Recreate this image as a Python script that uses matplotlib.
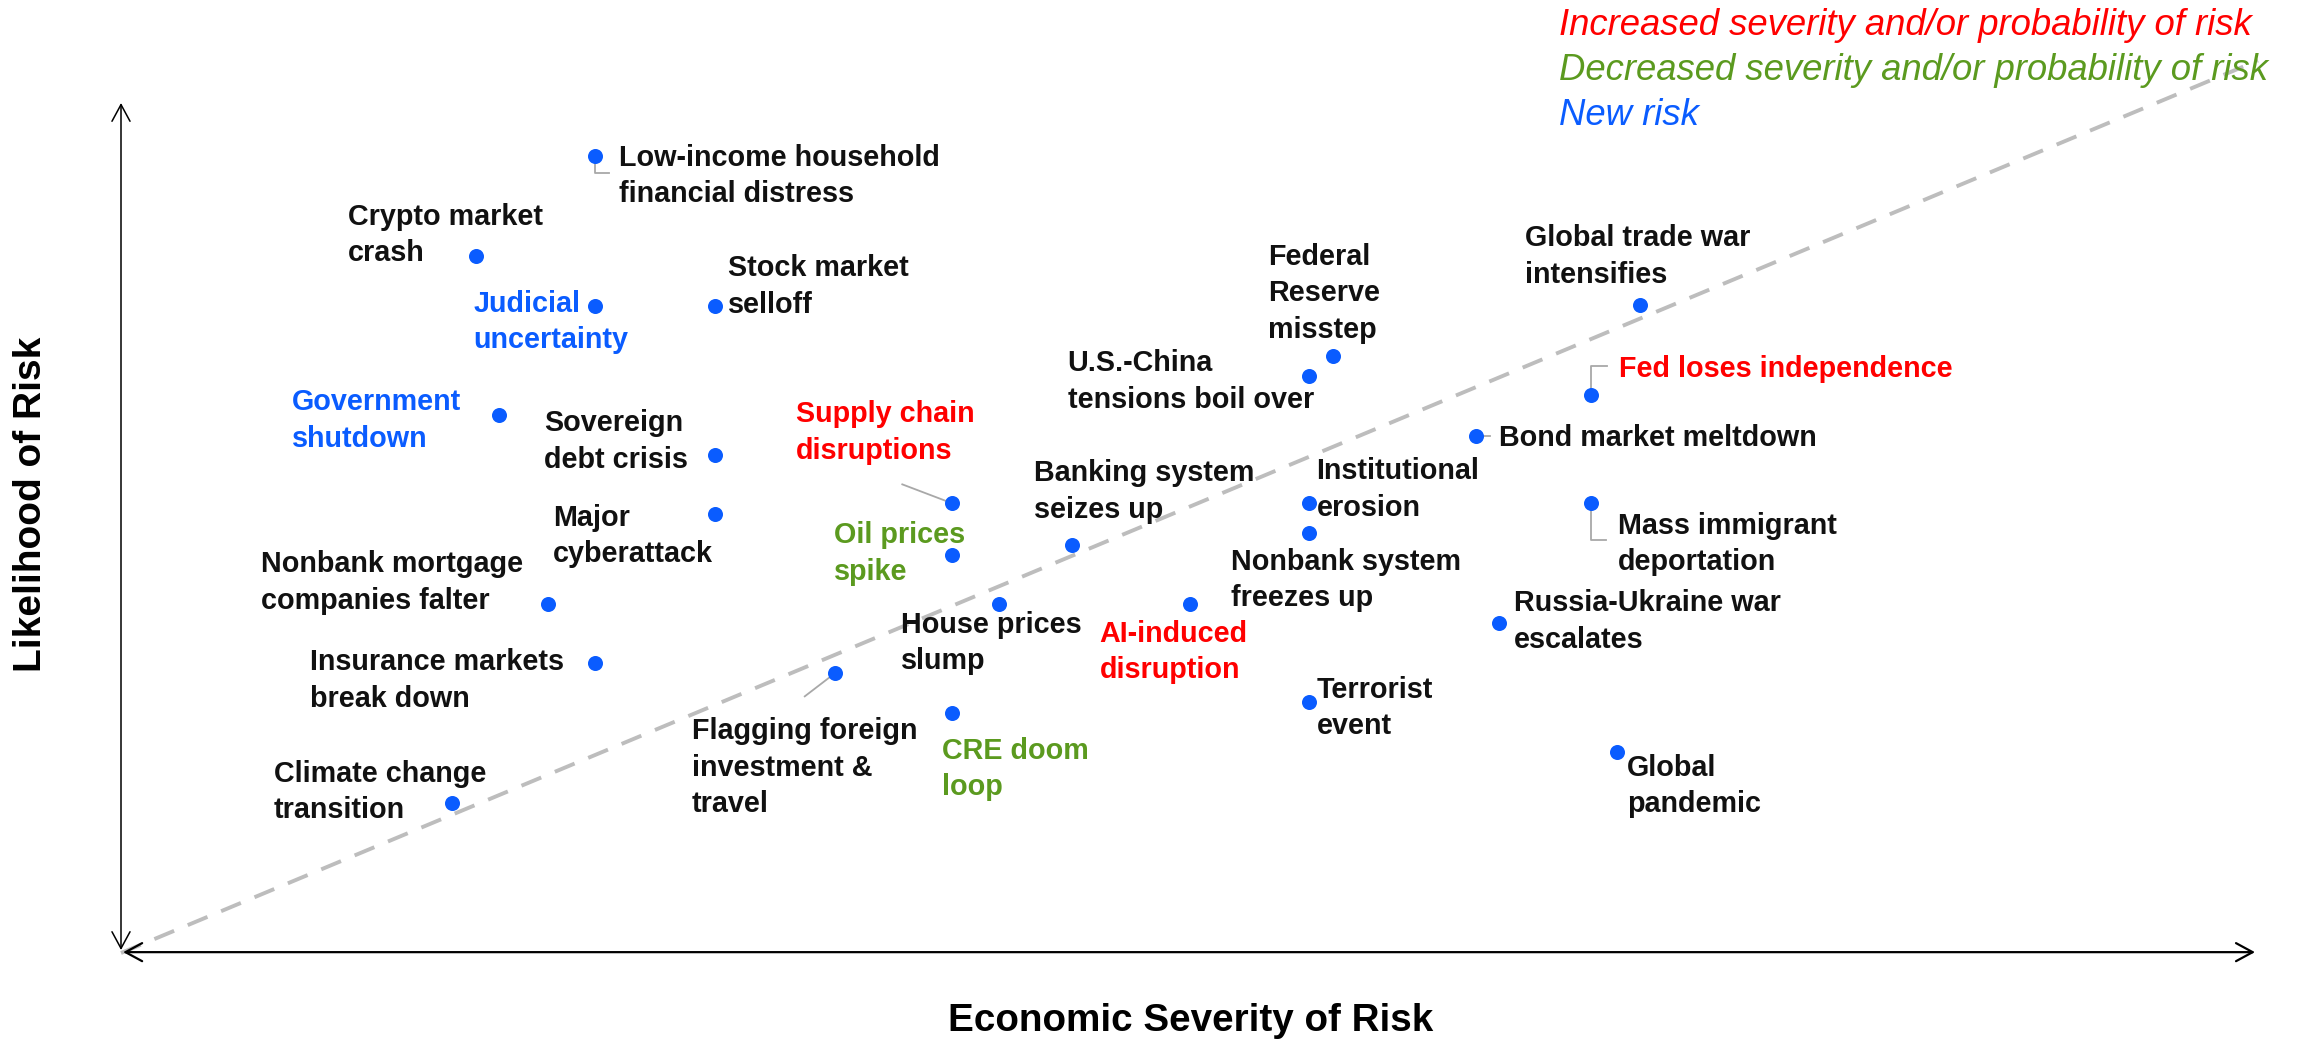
import matplotlib
matplotlib.use("Agg")
import matplotlib.pyplot as plt
import matplotlib.transforms as mtransforms
from matplotlib.patches import FancyArrowPatch

plt.rcParams['font.family'] = ['Liberation Sans', 'DejaVu Sans']

# risk names, severity (x, 0-100) and likelihood (y, 0-100)
risks = [
    "Low-income household\nfinancial distress",
    "Crypto market\ncrash",
    "Judicial\nuncertainty",
    "Stock market\nselloff",
    "Government\nshutdown",
    "Sovereign\ndebt crisis",
    "Major\ncyberattack",
    "Nonbank mortgage\ncompanies falter",
    "Insurance markets\nbreak down",
    "Climate change\ntransition",
    "Flagging foreign\ninvestment &\ntravel",
    "Supply chain\ndisruptions",
    "Oil prices\nspike",
    "House prices\nslump",
    "CRE doom\nloop",
    "Banking system\nseizes up",
    "AI-induced\ndisruption",
    "U.S.-China\ntensions boil over",
    "Federal\nReserve\nmisstep",
    "Institutional\nerosion",
    "Nonbank system\nfreezes up",
    "Terrorist\nevent",
    "Global trade war\nintensifies",
    "Fed loses independence",
    "Bond market meltdown",
    "Mass immigrant\ndeportation",
    "Russia-Ukraine war\nescalates",
    "Global\npandemic",
]
severity = [22.2, 16.6, 22.2, 27.8, 17.7, 27.8, 27.8, 20.0, 22.2, 15.5,
            33.4, 38.9, 38.9, 41.1, 38.9, 44.5, 50.0, 55.6, 56.7, 55.6,
            55.6, 55.6, 71.1, 68.8, 63.4, 68.8, 64.5, 70.0]
likelihood = [93.8, 82.0, 76.1, 76.1, 63.3, 58.6, 51.6, 41.1, 34.1, 17.7,
              32.9, 52.9, 46.8, 41.1, 28.2, 48.0, 41.1, 67.9, 70.2, 52.9,
              49.4, 29.5, 76.2, 65.7, 60.8, 52.9, 38.8, 23.6]
# change vs. previous survey: up, down, new, same
status = ['same', 'same', 'new', 'same', 'new', 'same', 'same', 'same', 'same', 'same',
          'same', 'up', 'down', 'same', 'down', 'same', 'up', 'same', 'same', 'same',
          'same', 'same', 'same', 'up', 'same', 'same', 'same', 'same']

legend_items = [("Increased severity and/or probability of risk", 'up'),
                ("Decreased severity and/or probability of risk", 'down'),
                ("New risk", 'new')]

TEXT_COLORS = {'same': '#111111', 'up': '#ff0000', 'down': '#5b9a1f', 'new': '#0a5cff'}
DOT = '#0a5cff'

# label placement: offset of text left edge / first line centre from the dot (reference px, y down)
label_offsets = [(16, 0), (-87, -28), (-83, -3), (9, -27), (-141, -10), (-116, -23),
                 (-110, 1), (-195, -28), (-194, -2), (-121, -21), (-97, 38), (-106, -62),
                 (-80, -15), (-67, 13), (-7, 24), (-26, -50), (-61, 19), (-164, -10),
                 (-44, -69), (5, -23), (-53, 18), (5, -10), (-78, -47), (19, -19),
                 (16, 0), (18, 14), (10, -15), (7, 9)]
# leader lines, in output pixels relative to the dot (y up)
connectors = {
    0: [(0, 0), (0, -17), (14, -17)],
    10: [(0, 0), (-30, -23)],
    11: [(-50, 19), (0, 0)],
    23: [(0, 0), (0, 29), (16, 29)],
    24: [(0, 0), (14, 0)],
    25: [(0, 0), (0, -37), (15, -37)],
}

W, H = 2310, 1059
fig = plt.figure(figsize=(W / 100, H / 100), dpi=100)
ax = fig.add_axes([121 / W, 106 / H, 2137 / W, 850 / H])
ax.set_xlim(0, 100)
ax.set_ylim(0, 100)
ax.axis('off')

# diagonal reference line
ax.plot([0, 100], [0, 105], color='#bdbdbd', lw=2.8, linestyle=(0, (5.5, 3.8)),
        clip_on=False, zorder=1)

# axes drawn as double-headed open arrows
axis_arrows = [((0, 0.35), (0, 100), 1.1), ((0.1, 0.1), (99.86, 0.1), 1.6)]
for a, b, lw in axis_arrows:
    ax.add_patch(FancyArrowPatch(a, b, arrowstyle='<->,head_length=1.2,head_width=0.65',
                                 mutation_scale=10, lw=lw, color='black',
                                 shrinkA=0, shrinkB=0, clip_on=False, zorder=2))

S = W / 1568
for i, name in enumerate(risks):
    x, y = severity[i], likelihood[i]
    if i in connectors:
        trans = fig.dpi_scale_trans + mtransforms.ScaledTranslation(x, y, ax.transData)
        px = [p[0] / 100 for p in connectors[i]]
        py = [p[1] / 100 for p in connectors[i]]
        ax.plot(px, py, color='#a8a8a8', lw=1.3, transform=trans, clip_on=False, zorder=3)
    dx, dy = label_offsets[i]
    for j, line in enumerate(name.split('\n')):
        ax.annotate(line, (x, y), xytext=(dx * S, -dy * S - 10 - j * 36.5),
                    textcoords='offset pixels', ha='left', va='baseline',
                    fontsize=20.7, fontweight='bold', color=TEXT_COLORS[status[i]],
                    annotation_clip=False, zorder=5)

ax.scatter(severity, likelihood, s=117, color=DOT, linewidths=0, zorder=4, clip_on=False)

for k, (txt, st) in enumerate(legend_items):
    fig.text(1559 / W, 1 - (35 + 45 * k) / H, txt, fontsize=26.3, fontstyle='italic',
             color=TEXT_COLORS[st], ha='left', va='baseline')

fig.text(1191 / W, 1 - 1031 / H, "Economic Severity of Risk", fontsize=27.8,
         fontweight='bold', ha='center', va='baseline')
fig.text(31 / W, 1 - 504 / H, "Likelihood of Risk", fontsize=28, fontweight='bold',
         rotation=90, ha='center', va='center')

fig.savefig('out.png', dpi=100)
